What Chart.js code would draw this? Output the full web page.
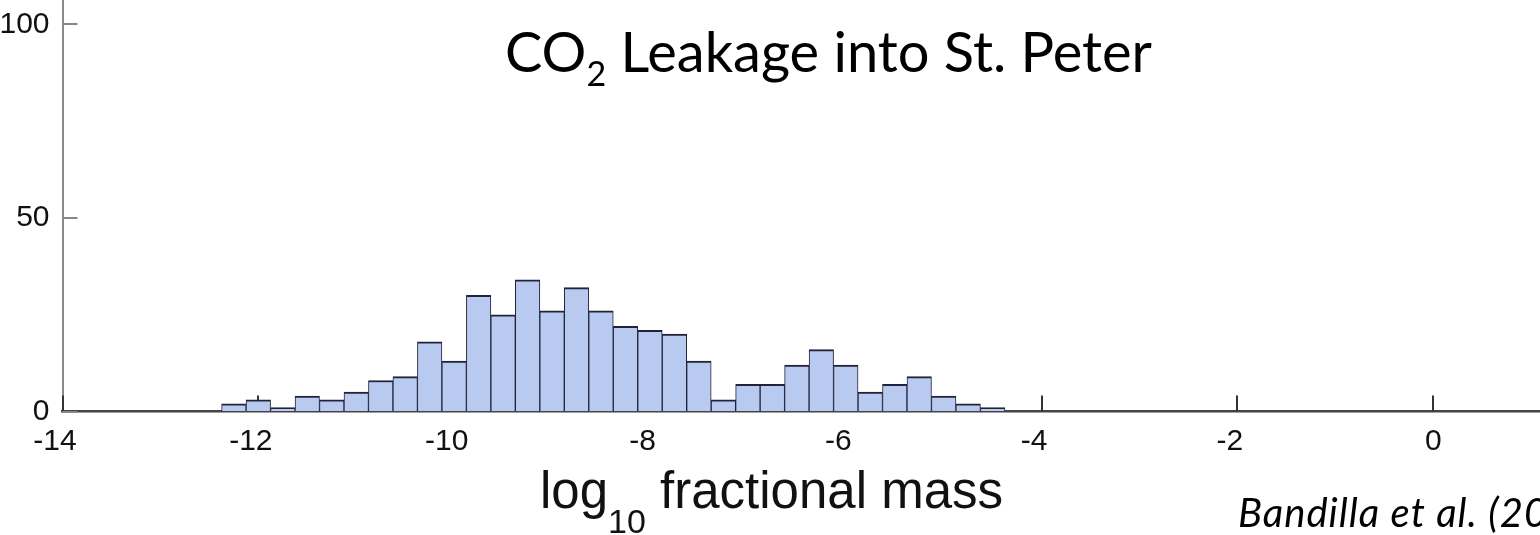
<!DOCTYPE html>
<html>
<head>
<meta charset="utf-8">
<script src="https://cdn.jsdelivr.net/npm/chart.js@4"></script>
<style>
  html, body { margin: 0; padding: 0; background: #fff; overflow: hidden; }
  #wrap { position: relative; width: 1540px; height: 535px; overflow: hidden; }
  #chart { position: absolute; left: 0; top: 0; }
  .title {
    position: absolute; left: 505px; top: 23px; white-space: nowrap;
    font-family: Lato, "Open Sans", sans-serif; font-size: 56px; line-height: 1; color: #000;
  }
  .title sub { font-size: 34px; position: relative; top: 14px; vertical-align: baseline; }
  .xlabel {
    position: absolute; left: 540px; top: 465px; white-space: nowrap;
    font-family: "Liberation Sans", Arial, sans-serif; font-size: 51px; line-height: 1; color: #111;
  }
  .xlabel sub { font-size: 34px; position: relative; top: 25px; vertical-align: baseline; }
  .cite {
    position: absolute; left: 1238px; top: 492px; white-space: nowrap; letter-spacing: 1px;
    font-family: Lato, "Open Sans", sans-serif; font-style: italic; font-size: 40px; line-height: 1; color: #000;
  }
</style>
</head>
<body>
<div id="wrap">
  <canvas id="chart" width="1540" height="535"></canvas>
  <div class="title">CO<sub>2</sub> Leakage into St. Peter</div>
  <div class="xlabel">log<sub>10</sub> fractional mass</div>
  <div class="cite">Bandilla et al. (20</div>
</div>
<script>
// histogram bins (log10 of leaked fraction) and their counts
const binCenters = [-12.25, -12, -11.75, -11.5, -11.25, -11, -10.75, -10.5,
  -10.25, -10, -9.75, -9.5, -9.25, -9, -8.75, -8.5,
  -8.25, -8, -7.75, -7.5, -7.25, -7, -6.75, -6.5,
  -6.25, -6, -5.75, -5.5, -5.25, -5, -4.75, -4.5];
const counts = [2, 3, 1, 4, 3, 5, 8, 9,
  18, 13, 30, 25, 34, 26, 32, 26,
  22, 21, 20, 13, 3, 7, 7, 12,
  16, 12, 5, 7, 9, 4, 2, 1];

const xTicks = [-14, -12, -10, -8, -6, -4, -2, 0];
const yTicks = [0, 50, 100];

// tick marks point inward, and get covered by the bars
const innerTicks = {
  id: 'innerTicks',
  beforeDatasetsDraw(chart) {
    const { ctx, scales: { x, y } } = chart;
    ctx.save();
    ctx.lineWidth = 2;
    ctx.strokeStyle = '#333';
    ctx.beginPath();
    xTicks.forEach(v => {
      const px = Math.round(x.getPixelForValue(v));
      ctx.moveTo(px, y.bottom);
      ctx.lineTo(px, y.bottom - 16);
    });
    ctx.stroke();
    ctx.strokeStyle = '#888';
    ctx.beginPath();
    yTicks.forEach(v => {
      const py = Math.round(y.getPixelForValue(v));
      ctx.moveTo(x.left, py);
      ctx.lineTo(x.left + 15, py);
    });
    ctx.stroke();
    ctx.restore();
  }
};

const tickFont = { family: '"Liberation Sans", Arial, sans-serif', size: 30 };

new Chart(document.getElementById('chart').getContext('2d'), {
  type: 'bar',
  data: {
    datasets: [{
      data: binCenters.map((c, i) => ({ x: c, y: counts[i] })),
      backgroundColor: '#b8caf0',
      borderColor: '#22223a',
      borderWidth: { top: 2, left: 1, right: 1, bottom: 0 },
      borderSkipped: 'start',
      barPercentage: 1,
      categoryPercentage: 1
    }]
  },
  options: {
    responsive: false,
    devicePixelRatio: 1,
    animation: false,
    layout: { padding: 0 },
    plugins: { legend: { display: false }, tooltip: { enabled: false } },
    scales: {
      x: {
        type: 'linear',
        min: -14,
        max: 1.09,
        offset: false,
        grid: { display: true, drawOnChartArea: false, drawTicks: false, offset: false },
        border: { display: true, color: '#444', width: 2.5 },
        ticks: {
          font: tickFont,
          color: '#111',
          padding: 12,
          maxRotation: 0,
          // keep the digits centred on the tick, minus sign hanging left
          callback: v => v < 0 ? v + '\u2002' : String(v)
        },
        afterBuildTicks: s => { s.ticks = xTicks.map(v => ({ value: v })); },
        afterFit: s => {
          s.height = 123.5;
          s.paddingLeft = s.paddingRight = 0;
        }
      },
      y: {
        min: 0,
        max: 106.3,
        grid: { display: true, drawOnChartArea: false, drawTicks: false },
        border: { display: true, color: '#8a8a8a', width: 2 },
        ticks: { font: tickFont, color: '#111', padding: 13 },
        afterBuildTicks: s => { s.ticks = yTicks.map(v => ({ value: v })); },
        afterFit: s => {
          s.width = 62.5;
          s.paddingTop = s.paddingBottom = 0;
        }
      }
    }
  },
  plugins: [innerTicks]
});
</script>
</body>
</html>
